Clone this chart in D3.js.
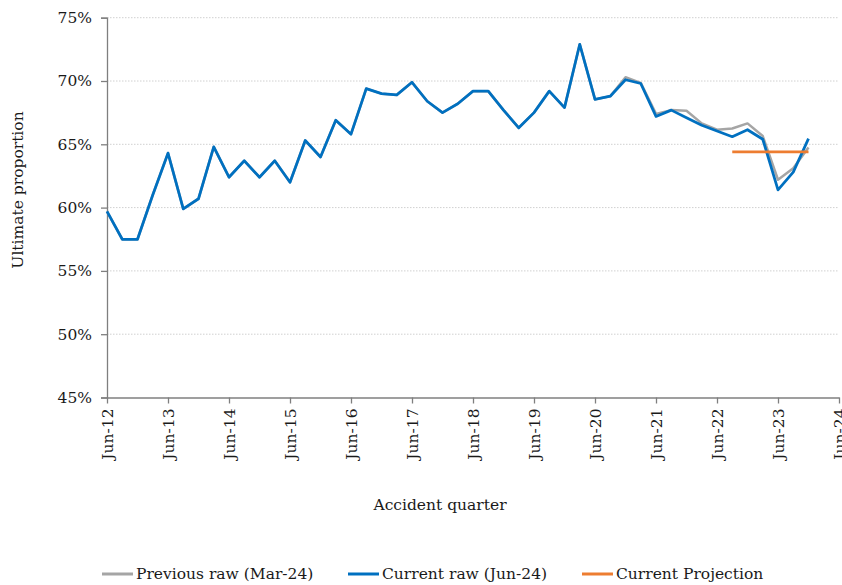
<!DOCTYPE html>
<html>
<head>
<meta charset="utf-8">
<script src="https://cdn.jsdelivr.net/npm/d3@7"></script>
<style>
  html, body { margin: 0; padding: 0; background: #fff; }
  svg text { font-family: "DejaVu Serif", serif; fill: #1a1a1a; }
</style>
</head>
<body>
<svg id="chart" width="842" height="585"></svg>
<script>
// Quarter index 0 = Jun-12, each step = one quarter
const xTickLabels = ["Jun-12","Jun-13","Jun-14","Jun-15","Jun-16","Jun-17","Jun-18","Jun-19","Jun-20","Jun-21","Jun-22","Jun-23","Jun-24"];
const yTickValues = [45, 50, 55, 60, 65, 70, 75];

const currentRaw = [
  59.7, 57.5, 57.5, 61.0, 64.3, 59.9, 60.7, 64.8,
  62.4, 63.7, 62.4, 63.7, 62.0, 65.3, 64.0, 66.9,
  65.8, 69.4, 69.0, 68.9, 69.9, 68.4, 67.5, 68.2,
  69.2, 69.2, 67.7, 66.3, 67.5, 69.2, 67.9, 72.9,
  68.55, 68.8, 70.1, 69.8, 67.2, 67.7, 67.1, 66.5,
  66.05, 65.6, 66.15, 65.4, 61.4, 62.8, 65.45
];
const previousRaw = [
  59.7, 57.5, 57.5, 61.0, 64.3, 59.9, 60.7, 64.8,
  62.4, 63.7, 62.4, 63.7, 62.0, 65.3, 64.0, 66.9,
  65.8, 69.4, 69.0, 68.9, 69.9, 68.4, 67.5, 68.2,
  69.2, 69.2, 67.7, 66.3, 67.5, 69.2, 67.9, 72.9,
  68.55, 68.8, 70.3, 69.85, 67.4, 67.7, 67.65, 66.65,
  66.15, 66.25, 66.65, 65.65, 62.2, 63.1, 64.75
];
// Projection: flat level over last quarters (index 41..46)
const projectionStart = 41;
const projectionEnd = 46;
const projectionValue = 64.4;

const svg = d3.select("#chart");
const margin = { left: 107, right: 842 - 839, top: 17.7, bottom: 585 - 397.5 };
const W = 842, H = 585;

const x = d3.scaleLinear().domain([0, 48]).range([margin.left, W - margin.right]);
const y = d3.scaleLinear().domain([45, 75]).range([H - margin.bottom, margin.top]);

// gridlines
svg.append("g")
  .selectAll("line")
  .data(yTickValues.filter(v => v > 45))
  .join("line")
  .attr("x1", x(0)).attr("x2", x(48) - 1)
  .attr("y1", d => y(d)).attr("y2", d => y(d))
  .attr("stroke", "#d0d0d0")
  .attr("stroke-width", 1)
  .attr("stroke-dasharray", "1.5,1.5");

// y axis
const yAxis = svg.append("g")
  .attr("transform", `translate(${x(0)},0)`)
  .call(d3.axisLeft(y).tickValues(yTickValues).tickFormat(d => d + "%").tickSize(6).tickPadding(9));
yAxis.select(".domain").attr("stroke", "#7f7f7f").attr("stroke-width", 1.3);
yAxis.selectAll(".tick line").attr("stroke", "#7f7f7f").attr("stroke-width", 1.3);
yAxis.selectAll(".tick text").attr("font-size", 15.5).attr("font-family", "DejaVu Serif").attr("fill", "#1a1a1a");

// x axis
const xAxis = svg.append("g")
  .attr("transform", `translate(0,${y(45)})`)
  .call(d3.axisBottom(x).tickValues(d3.range(0, 49, 4)).tickFormat((d, i) => xTickLabels[i]).tickSize(6).tickSizeOuter(0));
xAxis.select(".domain").attr("stroke", "#7f7f7f").attr("stroke-width", 1.3);
xAxis.selectAll(".tick line").attr("stroke", "#7f7f7f").attr("stroke-width", 1.3);
xAxis.selectAll(".tick text")
  .attr("font-size", 15.5).attr("font-family", "DejaVu Serif").attr("fill", "#1a1a1a")
  .attr("transform", "rotate(-90)")
  .attr("text-anchor", "end")
  .attr("x", -11).attr("y", 0).attr("dy", "0.35em");

// lines
const line = d3.line().x((d, i) => x(i)).y(d => y(d));
svg.append("path").datum(previousRaw)
  .attr("d", line).attr("fill", "none")
  .attr("stroke", "#a5a5a5").attr("stroke-width", 2.5).attr("stroke-linejoin", "round");
svg.append("path").datum(currentRaw)
  .attr("d", line).attr("fill", "none")
  .attr("stroke", "#0070c0").attr("stroke-width", 2.75).attr("stroke-linejoin", "round");
const projData = d3.range(projectionStart, projectionEnd + 1).map(i => ({ i, v: projectionValue }));
svg.append("path").datum(projData)
  .attr("d", d3.line().x(d => x(d.i)).y(d => y(d.v)))
  .attr("fill", "none").attr("stroke", "#ed7d31").attr("stroke-width", 2.75);

// axis titles
svg.append("text")
  .attr("x", 440).attr("y", 510)
  .attr("text-anchor", "middle").attr("font-size", 15.5)
  .text("Accident quarter");
svg.append("text")
  .attr("transform", "translate(23,190) rotate(-90)")
  .attr("text-anchor", "middle").attr("font-size", 15.5)
  .text("Ultimate proportion");

// legend
const legendItems = [
  { label: "Previous raw (Mar-24)", color: "#a5a5a5", x: 102 },
  { label: "Current raw (Jun-24)", color: "#0070c0", x: 348 },
  { label: "Current Projection", color: "#ed7d31", x: 582 }
];
const lg = svg.append("g").selectAll("g").data(legendItems).join("g")
  .attr("transform", d => `translate(${d.x},574)`);
lg.append("line").attr("x1", 0).attr("x2", 31).attr("y1", 0).attr("y2", 0)
  .attr("stroke", d => d.color).attr("stroke-width", 3);
lg.append("text").attr("x", 34).attr("y", 0).attr("dy", "0.35em")
  .attr("font-size", 15.5).text(d => d.label);
</script>
</body>
</html>
